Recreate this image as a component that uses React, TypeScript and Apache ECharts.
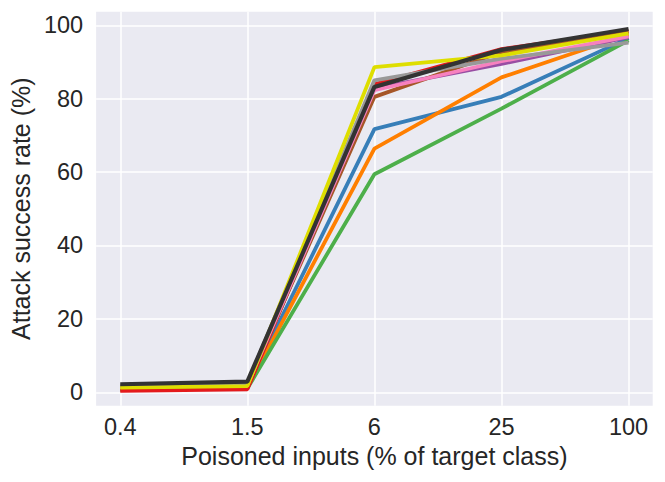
import React, { useEffect, useRef } from "react";
import * as echarts from "echarts";

const categories = ["0.4", "1.5", "6", "25", "100"];
const yTicks = [0, 20, 40, 60, 80, 100];

const blueValues = [1.0, 1.5, 71.7, 80.5, 96.5];
const orangeValues = [0.8, 1.2, 66.4, 85.8, 97.5];
const greenValues = [0.7, 1.0, 59.4, 77.3, 95.9];
const redValues = [0.4, 0.8, 83.9, 93.5, 98.4];
const purpleValues = [1.5, 2.2, 82.8, 89.5, 96.8];
const brownValues = [1.5, 2.2, 80.5, 92.7, 98.0];
const pinkValues = [1.4, 2.0, 82.3, 90.2, 97.0];
const greyValues = [1.8, 2.5, 85.0, 90.9, 95.3];
const yellowValues = [1.3, 1.7, 88.6, 91.8, 97.8];
const blackValues = [2.2, 2.9, 83.2, 93.3, 99.0];

const seriesDefs = [
  { name: "blue", color: "#377eb8", values: blueValues },
  { name: "orange", color: "#ff7f00", values: orangeValues },
  { name: "green", color: "#4daf4a", values: greenValues },
  { name: "red", color: "#e41a1c", values: redValues },
  { name: "purple", color: "#984ea3", values: purpleValues },
  { name: "brown", color: "#a65628", values: brownValues },
  { name: "pink", color: "#f781bf", values: pinkValues },
  { name: "grey", color: "#999999", values: greyValues },
  { name: "yellow", color: "#dede00", values: yellowValues },
  { name: "black", color: "#333333", values: blackValues },
];

const FONT = "'Liberation Sans', Arial, Helvetica, sans-serif";
const TEXT = "#262626";

export default function App() {
  const ref = useRef<HTMLDivElement>(null);
  useEffect(() => {
    document.body.style.margin = "0";
    if (!ref.current) return;
    const chart = echarts.init(ref.current, null, { renderer: "svg" });
    chart.setOption({
      animation: false,
      backgroundColor: "#ffffff",
      grid: {
        left: 95,
        top: 11.7,
        right: 12.3,
        bottom: 76.3,
        show: true,
        backgroundColor: "#eaeaf2",
        borderWidth: 0,
      },
      xAxis: {
        type: "value",
        min: -0.19,
        max: 4.19,
        name: "Poisoned inputs (% of target class)",
        nameLocation: "middle",
        nameGap: 38,
        nameTextStyle: { fontFamily: FONT, fontSize: 25, color: TEXT },
        axisLine: { show: false },
        axisTick: { show: false, customValues: [0, 1, 2, 3, 4] },
        axisLabel: {
          customValues: [0, 1, 2, 3, 4],
          formatter: (v: number) => categories[Math.round(v)] ?? "",
          fontFamily: FONT,
          fontSize: 23.5,
          color: TEXT,
          margin: 9,
        },
        splitLine: { show: true, lineStyle: { color: "#ffffff", width: 1.5 } },
      },
      yAxis: {
        type: "value",
        min: -3.65,
        max: 103.7,
        name: "Attack success rate (%)",
        nameLocation: "middle",
        nameGap: 60,
        nameTextStyle: { fontFamily: FONT, fontSize: 25, color: TEXT },
        axisLine: { show: false },
        axisTick: { show: false, customValues: yTicks },
        axisLabel: {
          customValues: yTicks,
          fontFamily: FONT,
          fontSize: 23.5,
          color: TEXT,
          margin: 13,
        },
        splitLine: { show: true, lineStyle: { color: "#ffffff", width: 1.5 } },
      },
      series: seriesDefs.map((s) => ({
        name: s.name,
        type: "line",
        data: s.values.map((v, i) => [i, v]),
        showSymbol: false,
        symbol: "none",
        lineStyle: { color: s.color, width: s.name === "black" ? 4.2 : 3.8 },
        itemStyle: { color: s.color },
      })),
    });
    return () => chart.dispose();
  }, []);
  return <div ref={ref} style={{ width: 665, height: 482 }} />;
}
